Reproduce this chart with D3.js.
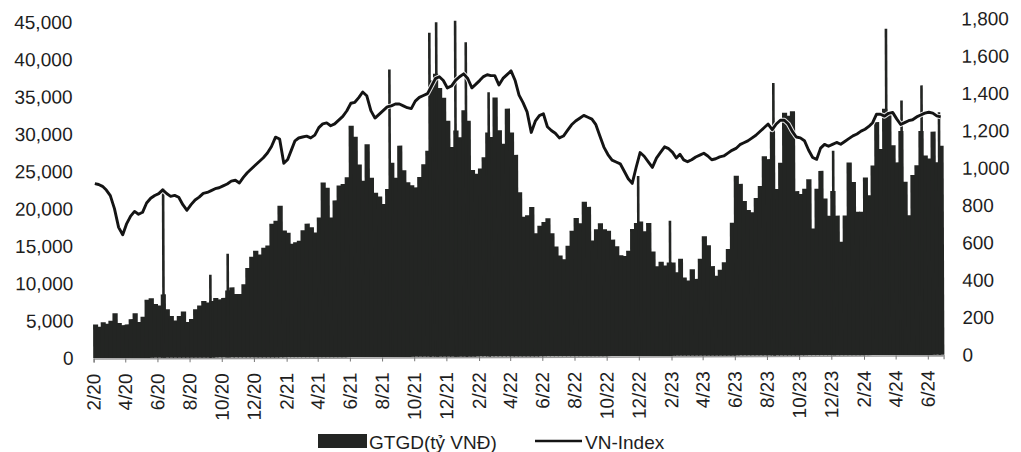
<!DOCTYPE html>
<html><head><meta charset="utf-8">
<script src="https://cdn.jsdelivr.net/npm/d3@7"></script>
<style>
html,body{margin:0;padding:0;background:#fff;}
svg{display:block;}
text{font-family:"Liberation Sans",Arial,sans-serif;fill:#1e1e1e;}
</style></head>
<body>
<svg id="chart" width="1021" height="452"></svg>
<script>
// Months covered (Feb 2020 – Jun 2024), four roughly weekly readings per month
const months = ["2020-02","2020-03","2020-04","2020-05","2020-06","2020-07","2020-08","2020-09","2020-10","2020-11","2020-12",
"2021-01","2021-02","2021-03","2021-04","2021-05","2021-06","2021-07","2021-08","2021-09","2021-10","2021-11","2021-12",
"2022-01","2022-02","2022-03","2022-04","2022-05","2022-06","2022-07","2022-08","2022-09","2022-10","2022-11","2022-12",
"2023-01","2023-02","2023-03","2023-04","2023-05","2023-06","2023-07","2023-08","2023-09","2023-10","2023-11","2023-12",
"2024-01","2024-02","2024-03","2024-04","2024-05","2024-06"];

// GTGD (tỷ VNĐ) – trading value, weekly readings per month
const gtgd = [
[4500,4200,4800,4600],[5000,6000,4700,4400],[4500,5200,6000,4800],[5500,7800,8000,7200],[7000,8500,6500,5600],
[5000,5600,6200,4800],[5200,6500,7000,7600],[7400,7600,8000,7800],[8000,9000,9400,8500],[8500,9800,12000,13500],
[14300,13800,14700,15000],[17900,18300,20300,17000],[16700,15200,15400,15600],[17000,17900,17400,16700],
[18700,23400,22700,18700],[21000,23000,23200,24100],[31000,29500,25800,23600],[28500,24000,22000,21500],
[20500,22500,26000,24000],[28300,25000,23400,23000],[22700,24100,25800,27600],[37000,37900,36000,34700],
[31600,28100,30300,29400],[33000,31600,25000,24500],[25200,26700,30000,29400],[34700,30300,28500,33200],
[30000,27000,22000,18700],[18900,20000,16500,17500],[18000,18500,16500,14700],[13500,13000,14800,16800],
[18500,17800,20700,20000],[15500,17000,17800,17000],[16800,15600,14700,13500],[13400,14100,17000,17800],
[18000,16700,17800,14000],[12000,12600,12100,12500],[12500,11200,13000,10500],[10100,11600,10300,13000],
[16000,14800,12000,10700],[11500,12500,14300,17800],[24100,23000,20700,19500],[19200,21100,22700,26700],
[26300,30000,22300,25800],[32500,32100,32700,22000],[21600,22300,23600,17000],[22300,24700,21000,18700],
[22000,18700,15200,18700],[25800,23200,19200,19200],[23800,21400,25400,31200],[27600,33000,32500,28100],
[25800,30000,23200,18700],[24100,25400,30000,26700],[26300,29900,25800,28000]
];

// Single-session peaks of trading value
const peakDates = ["2020-06-13","2020-09-10","2020-10-13","2021-08-17","2021-11-01","2021-11-14","2021-12-20",
"2022-01-09","2022-02-21","2022-12-01","2023-01-30","2023-08-15","2023-12-06","2024-03-16","2024-04-14","2024-05-22","2024-06-24"];
const peakValues = [22700,11100,13900,38500,43400,44800,45000,42100,35400,24100,18100,36500,27400,43700,34100,36100,32500];

// VN-Index – weekly readings per month
const vnIndex = [
[935,930,920,900],[870,800,700,660],[720,760,785,770],[780,830,855,870],[880,900,880,865],
[870,860,820,790],[820,845,860,880],[885,895,905,910],[920,930,945,950],[935,965,990,1010],
[1030,1050,1070,1095],[1130,1180,1170,1040],[1060,1110,1160,1175],[1180,1185,1175,1190],
[1230,1250,1255,1240],[1250,1270,1290,1320],[1360,1365,1390,1420],[1400,1320,1280,1300],
[1320,1340,1345,1355],[1355,1345,1335,1330],[1370,1390,1400,1410],[1450,1490,1500,1480],
[1440,1450,1480,1500],[1515,1490,1440,1460],[1480,1500,1510,1505],[1505,1455,1490,1510],
[1530,1480,1400,1360],[1310,1200,1260,1290],[1300,1230,1210,1195],[1170,1180,1210,1240],
[1260,1275,1290,1280],[1270,1240,1180,1120],[1080,1050,1040,1030],[990,950,925,1010],
[1090,1070,1040,1010],[1060,1090,1120,1110],[1090,1060,1080,1050],[1040,1050,1065,1075],
[1085,1070,1050,1055],[1065,1070,1085,1100],[1110,1130,1140,1150],[1165,1180,1200,1220],
[1240,1210,1240,1260],[1260,1240,1200,1170],[1165,1150,1100,1060],[1050,1110,1130,1120],
[1130,1140,1130,1145],[1160,1175,1185,1200],[1210,1225,1245,1290],[1290,1280,1295,1300],
[1265,1235,1245,1255],[1260,1275,1285,1295],[1300,1295,1280,1275]
];

const leftTicks = [0,5000,10000,15000,20000,25000,30000,35000,40000,45000];
const rightTicks = [0,200,400,600,800,1000,1200,1400,1600,1800];
const xTickLabels = ["2/20","4/20","6/20","8/20","10/20","12/20","2/21","4/21","6/21","8/21","10/21","12/21",
"2/22","4/22","6/22","8/22","10/22","12/22","2/23","4/23","6/23","8/23","10/23","12/23","2/24","4/24","6/24"];
const legendLabels = ["GTGD(tỷ VNĐ)","VN-Index"];

// ---------- build ----------
const parseMonth = d3.timeParse("%Y-%m");
const parseDay = d3.timeParse("%Y-%m-%d");
const parseTick = d3.timeParse("%m/%y");
const weeks = [];
months.forEach((m,i)=>{
  const s = parseMonth(m), e = d3.timeMonth.offset(s,1);
  const span = e - s;
  for(let k=0;k<4;k++){
    weeks.push({t0:new Date(+s+span*k/4), t1:new Date(+s+span*(k+1)/4),
      tm:new Date(+s+span*(k+0.5)/4), vol:gtgd[i][k], idx:vnIndex[i][k]});
  }
});
const peaks = peakDates.map((d,i)=>({t:parseDay(d), v:peakValues[i]}));
const xTicks = xTickLabels.map(l=>({t:parseTick(l), label:l}));

const svg = d3.select("#chart");
const g = svg.append("g").attr("transform","rotate(-0.22,510,200)");

const x = d3.scaleTime().domain([new Date(2020,1,1), new Date(2024,6,1)]).range([93,943]);
const yL = d3.scaleLinear().domain([0,45000]).range([356.5,20.5]);
const yR = d3.scaleLinear().domain([0,1800]).range([356.5,20.5]);
const barColor = "#232523";

// x axis line and ticks (under the bars)
const xAxis = d3.axisBottom(x).tickValues(xTicks.map(d=>d.t)).tickSize(4).tickFormat("");
const xa = g.append("g").attr("transform",`translate(0,${yL(0)+0.5})`).call(xAxis);
xa.select(".domain").attr("stroke","#9a9a9a").attr("stroke-width",1.5);
xa.selectAll(".tick line").attr("stroke","#777");

// bars
const bars = g.append("g");
bars.selectAll("rect.w").data(weeks).join("rect").attr("class","w")
  .attr("x",d=>x(d.t0)-0.4).attr("width",d=>x(d.t1)-x(d.t0)+1.2)
  .attr("y",d=>yL(d.vol)).attr("height",d=>yL(0)-yL(d.vol))
  .attr("fill",barColor);
bars.selectAll("rect.p").data(peaks).join("rect").attr("class","p")
  .attr("x",d=>x(d.t)-1.3).attr("width",2.6)
  .attr("y",d=>yL(d.v)).attr("height",d=>yL(0)-yL(d.v))
  .attr("fill",barColor);

// x labels
g.append("g").selectAll("text").data(xTicks).join("text")
  .attr("transform",d=>`translate(${x(d.t)},372) rotate(-90)`)
  .attr("text-anchor","end").attr("dy","0.35em")
  .style("font-size","19px")
  .text(d=>d.label);

// y axes labels
const fmt = d3.format(",");
g.append("g").selectAll("text").data(leftTicks).join("text")
  .attr("x",73).attr("y",d=>yL(d)).attr("dy","0.35em").attr("text-anchor","end")
  .style("font-size","19px").text(fmt);
g.append("g").selectAll("text").data(rightTicks).join("text")
  .attr("x",962).attr("y",d=>yR(d)).attr("dy","0.35em").attr("text-anchor","start")
  .style("font-size","19px").text(fmt);

// VN-Index line
const line = d3.line().x(d=>x(d.tm)).y(d=>yR(d.idx));
g.append("path").datum(weeks).attr("d",line).attr("fill","none")
  .attr("stroke","#ffffff").attr("stroke-width",5).attr("stroke-linejoin","round").attr("opacity",0.85);
g.append("path").datum(weeks).attr("d",line).attr("fill","none")
  .attr("stroke","#141414").attr("stroke-width",2.9).attr("stroke-linejoin","round");

// legend
const lg = svg.append("g");
lg.append("rect").attr("x",318).attr("y",434).attr("width",49).attr("height",14).attr("fill",barColor);
lg.append("text").attr("x",369).attr("y",449).style("font-size","19px").text(legendLabels[0]);
lg.append("line").attr("x1",535).attr("x2",582).attr("y1",441).attr("y2",441)
  .attr("stroke","#141414").attr("stroke-width",2.6);
lg.append("text").attr("x",585).attr("y",449).style("font-size","19px").text(legendLabels[1]);
</script>
</body></html>
